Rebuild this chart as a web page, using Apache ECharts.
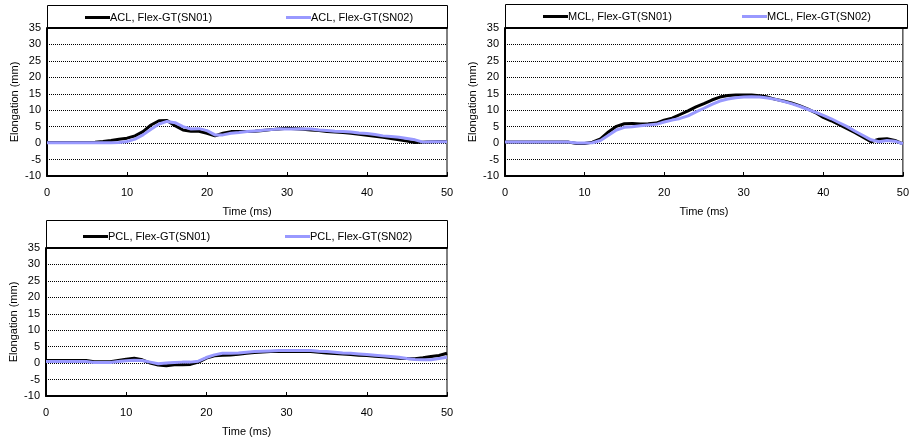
<!DOCTYPE html>
<html>
<head>
<meta charset="utf-8">
<script src="https://cdn.jsdelivr.net/npm/echarts@6/dist/echarts.min.js"></script>
<style>html,body{margin:0;padding:0;background:#fff}#c{width:912px;height:442px}</style>
</head>
<body>
<div id="c"></div>
<script>
var time = [0,1,2,3,4,5,6,7,8,9,10,11,12,13,14,15,16,17,18,19,20,21,22,23,24,25,26,27,28,29,30,31,32,33,34,35,36,37,38,39,40,41,42,43,44,45,46,47,48,49,50];
var yTicks = [-10,-5,0,5,10,15,20,25,30,35];
var xTicks = [0,10,20,30,40,50];

var aclSN01 = [0.2,0.2,0.2,0.2,0.2,0.2,0.3,0.5,0.8,1.2,1.5,2.2,3.5,5.5,6.8,6.9,5.3,4.0,3.6,3.6,3.0,2.2,3.0,3.5,3.5,3.5,3.6,3.8,4.1,4.3,4.5,4.4,4.2,4.0,3.8,3.5,3.4,3.2,3.0,2.7,2.4,2.1,1.8,1.4,1.0,0.6,0.2,0.3,0.4,0.5,0.5];
var aclSN02 = [0.1,0.1,0.1,0.1,0.1,0.1,0.1,0.1,0.1,0.2,0.5,1.2,2.5,4.2,5.8,6.6,6.2,5.0,4.3,4.4,3.8,2.5,2.5,3.0,3.2,3.5,3.7,3.9,4.1,4.3,4.3,4.3,4.3,4.3,4.0,3.8,3.6,3.5,3.4,3.1,2.9,2.6,2.2,2.0,1.8,1.4,1.0,0.3,0.4,0.4,0.4];
var mclSN01 = [0.3,0.3,0.3,0.3,0.3,0.3,0.3,0.3,0.3,-0.1,-0.1,0.3,1.3,3.4,5.1,5.9,6.0,5.8,5.9,6.1,7.0,7.6,8.7,9.8,11.0,12.0,13.1,14.0,14.5,14.6,14.6,14.6,14.4,14.0,13.3,12.8,12.2,11.4,10.4,9.3,7.8,6.8,5.6,4.4,3.2,1.8,0.4,1.2,1.3,0.8,-0.2];
var mclSN02 = [0.3,0.3,0.3,0.3,0.3,0.3,0.3,0.3,0.3,0.0,0.0,0.1,0.8,2.4,4.0,4.8,5.0,5.3,5.5,5.7,6.4,7.0,7.5,8.3,9.5,10.6,11.8,12.8,13.4,13.8,14.0,14.1,14.0,13.7,13.3,12.7,12.0,11.2,10.3,9.4,8.4,7.4,6.2,5.0,3.6,2.3,1.0,0.4,0.8,0.6,-0.2];
var pclSN01 = [0.8,0.8,0.8,0.8,0.8,0.8,0.4,0.4,0.4,0.8,1.2,1.5,1.0,0.0,-0.6,-0.8,-0.5,-0.5,-0.4,0.3,1.5,2.2,2.4,2.5,2.7,3.0,3.2,3.4,3.5,3.5,3.5,3.5,3.5,3.5,3.3,3.1,2.9,2.8,2.6,2.4,2.3,2.1,1.9,1.7,1.5,1.4,1.3,1.6,2.0,2.3,3.0];
var pclSN02 = [0.5,0.5,0.5,0.5,0.5,0.5,0.2,0.2,0.2,0.5,0.7,0.9,0.8,0.3,-0.2,0.0,0.2,0.3,0.3,0.6,1.7,2.5,3.0,3.0,3.1,3.3,3.5,3.6,3.7,3.8,3.8,3.8,3.8,3.8,3.6,3.5,3.3,3.1,3.0,2.8,2.6,2.4,2.2,2.0,1.8,1.4,1.1,1.0,1.0,1.4,1.8];

var names = [
  ['ACL, Flex-GT(SN01)','ACL, Flex-GT(SN02)'],
  ['MCL, Flex-GT(SN01)','MCL, Flex-GT(SN02)'],
  ['PCL, Flex-GT(SN01)','PCL, Flex-GT(SN02)']
];
var seriesData = [[aclSN01, aclSN02],[mclSN01, mclSN02],[pclSN01, pclSN02]];

var FONT = 'Liberation Sans, Arial, sans-serif';
var BLACK = '#000000', BLUE = '#9999FF';

var panels = [
  {left:47, top:28, width:400, height:148, boxTop:5, legY:19, legX:[85,286]},
  {left:505, top:28, width:402, height:148, boxTop:4, legY:18, legX:[543,742]},
  {left:46, top:248, width:401, height:148, boxTop:220, legY:238, legX:[83,285]}
];

function pairs(vals){ return time.map(function(t,i){ return [t, vals[i]]; }); }

var grids=[], xAxes=[], yAxes=[], series=[], legends=[], graphics=[];
panels.forEach(function(p, k){
  grids.push({left:p.left, top:p.top, width:p.width, height:p.height, show:true, borderColor:BLACK, borderWidth:1, backgroundColor:'transparent'});
  xAxes.push({
    type:'value', gridIndex:k, min:xTicks[0], max:xTicks[xTicks.length-1], interval:10,
    name:'Time (ms)', nameLocation:'middle', nameGap:30,
    nameTextStyle:{fontFamily:FONT, fontSize:11, color:BLACK},
    axisLine:{show:true, onZero:false, lineStyle:{color:BLACK, width:2}},
    axisTick:{show:true, inside:true, length:4, lineStyle:{color:BLACK, width:1}},
    axisLabel:{fontFamily:FONT, fontSize:11, color:BLACK, margin:11},
    splitLine:{show:false}
  });
  yAxes.push({
    type:'value', gridIndex:k, min:yTicks[0], max:yTicks[yTicks.length-1], interval:5,
    name:'Elongation (mm)', nameLocation:'middle', nameGap:27,
    nameTextStyle:{fontFamily:FONT, fontSize:11, color:BLACK},
    axisLine:{show:true, onZero:false, lineStyle:{color:BLACK, width:2}},
    axisTick:{show:false},
    axisLabel:{fontFamily:FONT, fontSize:11, color:BLACK, margin:6},
    splitLine:{show:true, lineStyle:{color:BLACK, width:1, type:[1,1]}}
  });
  [BLACK, BLUE].forEach(function(col, j){
    series.push({
      type:'line', name:names[k][j], xAxisIndex:k, yAxisIndex:k,
      data:pairs(seriesData[k][j]), showSymbol:false, symbol:'none',
      lineStyle:{color:col, width:3}, itemStyle:{color:col}, animation:false
    });
    legends.push({
      data:[names[k][j]], left:p.legX[j], top:p.legY-7, padding:0,
      icon:'rect', itemWidth:25, itemHeight:3, itemGap:0,
      textStyle:{fontFamily:FONT, fontSize:11, color:BLACK, padding:[0,0,0,-5]}
    });
  });
  graphics.push({
    type:'rect', shape:{x:p.left+0.5, y:p.boxTop+0.5, width:p.width, height:p.top-p.boxTop},
    style:{fill:'none', stroke:BLACK, lineWidth:1}, silent:true
  });
  graphics.push({
    type:'line', shape:{x1:p.left, y1:p.top, x2:p.left+p.width, y2:p.top},
    style:{stroke:BLACK, lineWidth:2}, silent:true
  });
});

var chart = echarts.init(document.getElementById('c'), null, {renderer:'canvas'});
chart.setOption({
  animation:false,
  backgroundColor:'#ffffff',
  grid:grids, xAxis:xAxes, yAxis:yAxes, series:series, legend:legends, graphic:graphics
});
</script>
</body>
</html>
